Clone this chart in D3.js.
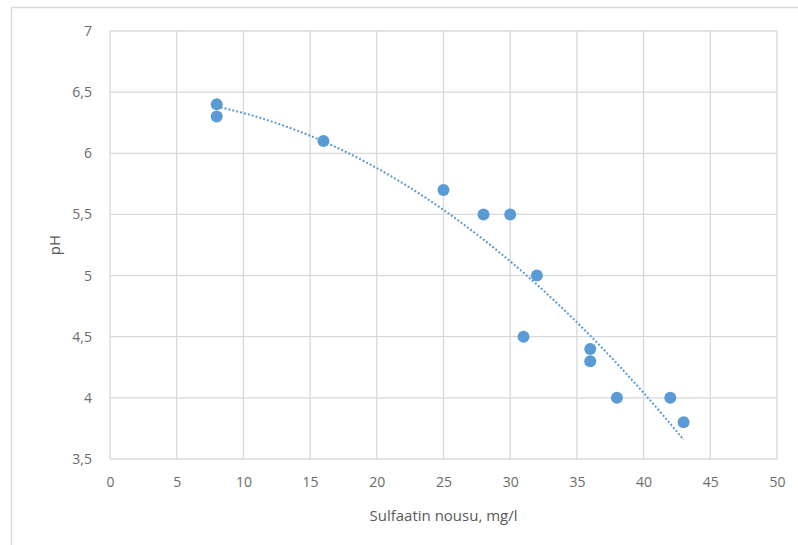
<!DOCTYPE html>
<html>
<head>
<meta charset="utf-8">
<script src="https://cdn.jsdelivr.net/npm/d3@7"></script>
<style>
  body { margin: 0; background: #fff; }
  text { font-family: "Open Sans", "Liberation Sans", sans-serif; fill: #595959; }
</style>
</head>
<body>
<div id="chart"></div>
<script>
// Measured points: sulfate rise (mg/l) vs pH
var sulfate = [8, 8, 16, 25, 28, 30, 32, 31, 36, 36, 38, 42, 43];
var ph = [6.4, 6.3, 6.1, 5.7, 5.5, 5.5, 5.0, 4.5, 4.4, 4.3, 4.0, 4.0, 3.8];
var xTicks = [0, 5, 10, 15, 20, 25, 30, 35, 40, 45, 50];
var yTicks = [3.5, 4, 4.5, 5, 5.5, 6, 6.5, 7];

var width = 798, height = 545;
var margin = { top: 31, right: 21, bottom: 86, left: 110 };

var svg = d3.select("#chart").append("svg")
    .attr("width", width)
    .attr("height", height);

// outer chart border (runs off the page on the right and bottom)
svg.append("rect")
    .attr("x", 11.5).attr("y", 7.5)
    .attr("width", width).attr("height", height)
    .attr("fill", "none")
    .attr("stroke", "#d9d9d9")
    .attr("stroke-width", 1.5);

var x = d3.scaleLinear().domain([0, 50]).range([margin.left, width - margin.right]);
var y = d3.scaleLinear().domain([3.5, 7]).range([height - margin.bottom, margin.top]);

var fmt = function(d) { return String(d).replace(".", ","); };

// gridlines
svg.append("g").selectAll("line").data(xTicks).enter().append("line")
    .attr("x1", d => x(d)).attr("x2", d => x(d))
    .attr("y1", y(3.5)).attr("y2", y(7))
    .attr("stroke", "#d9d9d9").attr("stroke-width", 1.3);
svg.append("g").selectAll("line").data(yTicks).enter().append("line")
    .attr("x1", x(0)).attr("x2", x(50))
    .attr("y1", d => y(d)).attr("y2", d => y(d))
    .attr("stroke", "#d9d9d9").attr("stroke-width", 1.3);

// axes (labels only)
var xAxis = svg.append("g")
    .attr("transform", "translate(0," + y(3.5) + ")")
    .call(d3.axisBottom(x).tickValues(xTicks).tickSize(0).tickPadding(18).tickFormat(fmt));
var yAxis = svg.append("g")
    .attr("transform", "translate(" + x(0) + ",0)")
    .call(d3.axisLeft(y).tickValues(yTicks).tickSize(0).tickPadding(18).tickFormat(fmt));
[xAxis, yAxis].forEach(function(a) {
    a.select(".domain").remove();
    a.selectAll("text").style("font-size", "14px").style("fill", "#6b6b6b")
        .style("font-family", "'Open Sans', sans-serif");
});

// polynomial (order 2) trendline, least squares fit of the points
function quadFit(xs, ys) {
    var n = xs.length, s = [0, 0, 0, 0, 0], t = [0, 0, 0];
    for (var i = 0; i < n; i++) {
        var p = 1;
        for (var k = 0; k < 5; k++) { s[k] += p; if (k < 3) t[k] += p * ys[i]; p *= xs[i]; }
    }
    var A = [[s[0], s[1], s[2], t[0]], [s[1], s[2], s[3], t[1]], [s[2], s[3], s[4], t[2]]];
    for (var c = 0; c < 3; c++) {
        for (var r = c + 1; r < 3; r++) {
            var f = A[r][c] / A[c][c];
            for (var j = c; j < 4; j++) A[r][j] -= f * A[c][j];
        }
    }
    var b = [0, 0, 0];
    for (var r2 = 2; r2 >= 0; r2--) {
        var v = A[r2][3];
        for (var j2 = r2 + 1; j2 < 3; j2++) v -= A[r2][j2] * b[j2];
        b[r2] = v / A[r2][r2];
    }
    return b;
}
var coef = quadFit(sulfate, ph);
var xMin = d3.min(sulfate), xMax = d3.max(sulfate);
var trend = d3.range(0, 61).map(function(i) {
    var xv = xMin + (xMax - xMin) * i / 60;
    return [xv, coef[0] + coef[1] * xv + coef[2] * xv * xv];
});
svg.append("path")
    .datum(trend)
    .attr("d", d3.line().x(d => x(d[0])).y(d => y(d[1])))
    .attr("fill", "none")
    .attr("stroke", "#5b9bd5")
    .attr("stroke-width", 2)
    .attr("stroke-dasharray", "2,2");

// points
svg.append("g").selectAll("circle").data(sulfate).enter().append("circle")
    .attr("cx", d => x(d))
    .attr("cy", (d, i) => y(ph[i]))
    .attr("r", 6)
    .attr("fill", "#5b9bd5");

// axis titles
svg.append("text")
    .attr("x", (x(0) + x(50)) / 2)
    .attr("y", 521)
    .attr("text-anchor", "middle")
    .style("font-size", "15px")
    .text("Sulfaatin nousu, mg/l");
svg.append("text")
    .attr("transform", "translate(60," + ((y(3.5) + y(7)) / 2) + ") rotate(-90)")
    .attr("text-anchor", "middle")
    .style("font-size", "15px")
    .text("pH");
</script>
</body>
</html>
